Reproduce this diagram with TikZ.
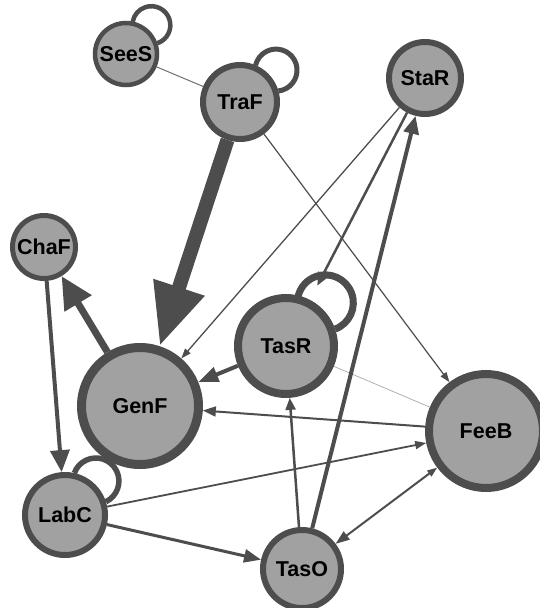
\documentclass[tikz,border=0pt]{standalone}
\usepackage{fontspec}
\setmainfont{Liberation Sans}
\usetikzlibrary{arrows.meta}
\definecolor{edgec}{HTML}{4D4D4D}
\definecolor{nodec}{HTML}{A1A1A1}
\definecolor{thinc}{HTML}{707070}
\definecolor{faintc}{HTML}{A8A8A8}
\pgfdeclarelayer{background}
\pgfsetlayers{background,main}
\tikzset{
  nd/.style={circle, draw=edgec, fill=nodec, inner sep=0pt,
    font=\fontsize{21.5}{25}\selectfont\bfseries, text=black},
  ed/.style={draw=edgec, line cap=butt},
}
\begin{document}
\begin{tikzpicture}[x=1pt,y=1pt]
\useasboundingbox (0,0) rectangle (539,-608);
% nodes
\node[nd, minimum size=62pt, line width=4.5pt] (SeeS) at (126,-54) {SeeS};
\node[nd, minimum size=74pt, line width=6pt] (TraF) at (240,-102) {TraF};
\node[nd, minimum size=72pt, line width=6pt] (StaR) at (425,-78) {StaR};
\node[nd, minimum size=63pt, line width=5pt] (ChaF) at (44,-247) {ChaF};
\node[nd, minimum size=96pt, line width=8pt] (TasR) at (286,-346) {TasR};
\node[nd, minimum size=117pt, line width=9pt] (GenF) at (140,-406) {GenF};
\node[nd, minimum size=114pt, line width=8pt] (FeeB) at (486,-431) {FeeB};
\node[nd, minimum size=80pt, line width=6pt] (LabC) at (65,-515) {LabC};
\node[nd, minimum size=78pt, line width=6pt] (TasO) at (302,-569) {TasO};
\begin{pgfonlayer}{background}
% self loops
\draw[ed, line width=4.5pt] (SeeS.19.4) arc[start angle=-71.3, end angle=169.7, radius=19];
\draw[ed, line width=5pt] (TraF.16.1) arc[start angle=-83.4, end angle=166.8, radius=21];
\draw[ed, line width=5.5pt] (LabC.18.1) arc[start angle=-64.3, end angle=159.7, radius=23];
\draw[ed, line width=7pt] (TasR.19.9) arc[start angle=-69.4, end angle=166.4, radius=28];
% edges
\draw[draw=thinc, line width=1pt] (SeeS) -- (TraF);
\draw[draw=faintc, line width=0.7pt] (TasR) -- (FeeB);
\draw[ed, line width=1.2pt, -{Triangle[length=10pt,width=7pt]}] (TraF) -- (FeeB);
\draw[ed, line width=1.3pt, -{Triangle[length=10pt,width=7pt]}] (StaR) -- (GenF);
\draw[ed, line width=2.5pt, shorten >=16pt, -{Triangle[length=13pt,width=11pt]}] (StaR) -- (TasR);
\draw[ed, line width=4pt, -{Triangle[length=18pt,width=15pt]}] (TasO) -- (StaR);
\draw[ed, line width=2.5pt, -{Triangle[length=12pt,width=10pt]}] (TasO) -- (TasR);
\draw[ed, line width=4pt, -{Triangle[length=20pt,width=15pt]}] (TasR) -- (GenF);
\draw[ed, line width=2pt, -{Triangle[length=13pt,width=10pt]}] (FeeB) -- (GenF);
\draw[ed, line width=1.8pt, -{Triangle[length=11pt,width=8pt]}] (LabC) -- (FeeB);
\draw[ed, line width=3pt, -{Triangle[length=17pt,width=13pt]}] (LabC) -- (TasO);
\draw[ed, line width=2pt, {Triangle[length=10pt,width=7pt]}-{Triangle[length=14pt,width=10pt]}] (FeeB) -- (TasO);
\draw[ed, line width=4pt, -{Triangle[length=22pt,width=19pt]}] (ChaF) -- (LabC);
\draw[ed, line width=7pt, -{Triangle[length=32pt,width=30pt]}] (GenF) -- (ChaF);
\draw[ed, line width=14pt, -{Triangle[length=62pt,width=50pt]}] (TraF) -- (GenF);
\end{pgfonlayer}
\end{tikzpicture}
\end{document}
